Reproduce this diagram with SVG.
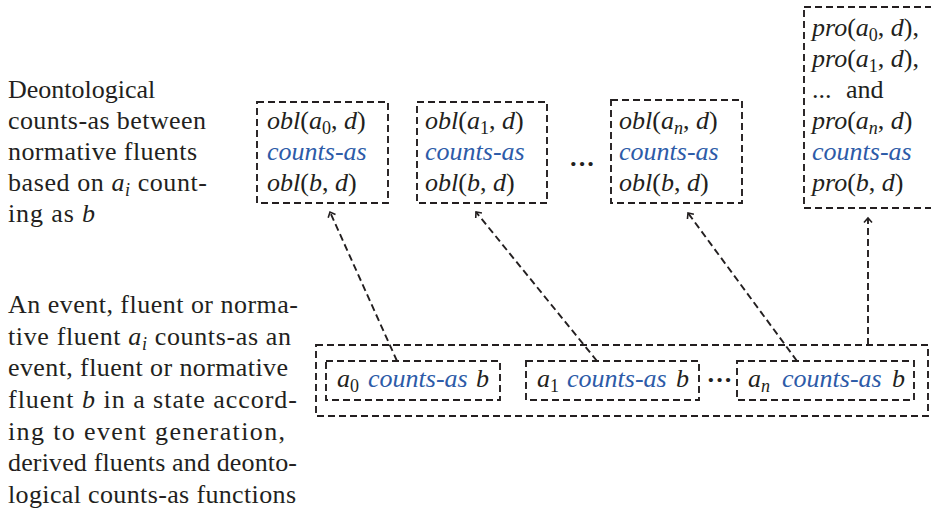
<svg xmlns="http://www.w3.org/2000/svg" width="931" height="517" viewBox="0 0 931 517">
<style>
.t{font-family:'Liberation Serif','Times New Roman',serif;font-size:26px;fill:#231f20}
.i{font-style:italic}
.b{font-style:italic;fill:#2d5ba8}
.s{font-size:18px}
.box{fill:none;stroke:#231f20;stroke-width:1.9;stroke-dasharray:7 4}
.c{fill:none;stroke:#231f20;stroke-width:1.9;stroke-dasharray:7 4;marker-end:url(#ah)}
</style>
<defs>
<marker id="ah" markerUnits="userSpaceOnUse" markerWidth="12" markerHeight="12" viewBox="-6 -6 12 12" refX="0" refY="0" orient="auto">
<path d="M-4.5,-4 L0,0 L-4.5,4" fill="none" stroke="#231f20" stroke-width="1.6" stroke-dasharray="none"/>
</marker>
</defs>
<rect width="931" height="517" fill="#ffffff"/>

<g id="label-top" class="t">
<text x="8" y="98">Deontological</text>
<text x="8" y="129" textLength="198" lengthAdjust="spacing">counts-as between</text>
<text x="8" y="160" textLength="189" lengthAdjust="spacing">normative fluents</text>
<text x="8" y="191" textLength="199" lengthAdjust="spacing">based on <tspan class="i">a</tspan><tspan class="i s" dy="5">i</tspan><tspan dy="-5"> count-</tspan></text>
<text x="8" y="222" textLength="87" lengthAdjust="spacing">ing as <tspan class="i">b</tspan></text>
</g>

<g id="label-bottom" class="t">
<text x="8" y="313" textLength="290" lengthAdjust="spacing">An event, fluent or norma-</text>
<text x="8" y="345" textLength="283" lengthAdjust="spacing">tive fluent <tspan class="i">a</tspan><tspan class="i s" dy="5">i</tspan><tspan dy="-5"> counts-as an</tspan></text>
<text x="8" y="376" textLength="280" lengthAdjust="spacing">event, fluent or normative</text>
<text x="8" y="408" textLength="289" lengthAdjust="spacing">fluent <tspan class="i">b</tspan> in a state accord-</text>
<text x="8" y="440" textLength="277" lengthAdjust="spacing">ing to event generation,</text>
<text x="8" y="471" textLength="289" lengthAdjust="spacing">derived fluents and deonto-</text>
<text x="8" y="503" textLength="288" lengthAdjust="spacing">logical counts-as functions</text>
</g>

<g id="obl-a0">
<rect class="box" x="257" y="102" width="131" height="101"/>
<text class="t" x="267" y="129"><tspan class="i">obl</tspan>(<tspan class="i">a</tspan><tspan class="s" dy="5">0</tspan><tspan dy="-5">, </tspan><tspan class="i">d</tspan>)</text>
<text class="t b" x="267" y="160">counts-as</text>
<text class="t" x="267" y="191"><tspan class="i">obl</tspan>(<tspan class="i">b</tspan>, <tspan class="i">d</tspan>)</text>
</g>

<g id="obl-a1">
<rect class="box" x="417" y="102" width="130" height="101"/>
<text class="t" x="425" y="129"><tspan class="i">obl</tspan>(<tspan class="i">a</tspan><tspan class="s" dy="5">1</tspan><tspan dy="-5">, </tspan><tspan class="i">d</tspan>)</text>
<text class="t b" x="425" y="160">counts-as</text>
<text class="t" x="425" y="191"><tspan class="i">obl</tspan>(<tspan class="i">b</tspan>, <tspan class="i">d</tspan>)</text>
</g>

<g id="dots-top">
<text class="t" x="582" y="172" text-anchor="middle" font-weight="bold">···</text>
</g>

<g id="obl-an">
<rect class="box" x="611" y="100" width="131" height="103"/>
<text class="t" x="619" y="129"><tspan class="i">obl</tspan>(<tspan class="i">a</tspan><tspan class="i s" dy="5">n</tspan><tspan dy="-5">, </tspan><tspan class="i">d</tspan>)</text>
<text class="t b" x="619" y="160">counts-as</text>
<text class="t" x="619" y="191"><tspan class="i">obl</tspan>(<tspan class="i">b</tspan>, <tspan class="i">d</tspan>)</text>
</g>

<g id="pro">
<rect class="box" x="804" y="7" width="145" height="201"/>
<text class="t" x="812" y="36"><tspan class="i">pro</tspan>(<tspan class="i">a</tspan><tspan class="s" dy="5">0</tspan><tspan dy="-5">, </tspan><tspan class="i">d</tspan>),</text>
<text class="t" x="812" y="67"><tspan class="i">pro</tspan>(<tspan class="i">a</tspan><tspan class="s" dy="5">1</tspan><tspan dy="-5">, </tspan><tspan class="i">d</tspan>),</text>
<text class="t" x="812" y="98">...<tspan x="846">and</tspan></text>
<text class="t" x="812" y="129"><tspan class="i">pro</tspan>(<tspan class="i">a</tspan><tspan class="i s" dy="5">n</tspan><tspan dy="-5">, </tspan><tspan class="i">d</tspan>)</text>
<text class="t b" x="812" y="160">counts-as</text>
<text class="t" x="812" y="191"><tspan class="i">pro</tspan>(<tspan class="i">b</tspan>, <tspan class="i">d</tspan>)</text>
</g>

<g id="outer">
<rect class="box" x="316" y="345" width="612" height="71"/>
</g>

<g id="a0-counts">
<rect class="box" x="326" y="361" width="174" height="39"/>
<text class="t" x="337" y="387"><tspan class="i">a</tspan><tspan class="s" dy="5">0</tspan><tspan class="b" dy="-5" x="368">counts-as</tspan><tspan class="i" x="476">b</tspan></text>
</g>

<g id="a1-counts">
<rect class="box" x="526" y="361" width="173" height="39"/>
<text class="t" x="537" y="387"><tspan class="i">a</tspan><tspan class="s" dy="5">1</tspan><tspan class="b" dy="-5" x="567">counts-as</tspan><tspan class="i" x="676">b</tspan></text>
</g>

<g id="dots-bottom">
<text class="t" x="719.5" y="388" text-anchor="middle" font-weight="bold">···</text>
</g>

<g id="an-counts">
<rect class="box" x="737" y="361" width="177" height="39"/>
<text class="t" x="748" y="387"><tspan class="i">a</tspan><tspan class="i s" dy="5">n</tspan><tspan class="b" dy="-5" x="782">counts-as</tspan><tspan class="i" x="892">b</tspan></text>
</g>

<g id="connectors">
<line class="c" x1="397" y1="361" x2="330" y2="212"/>
<line class="c" x1="597" y1="361" x2="476" y2="212"/>
<line class="c" x1="797" y1="361" x2="688" y2="213"/>
<line class="c" x1="868" y1="345" x2="868" y2="218"/>
</g>
</svg>
